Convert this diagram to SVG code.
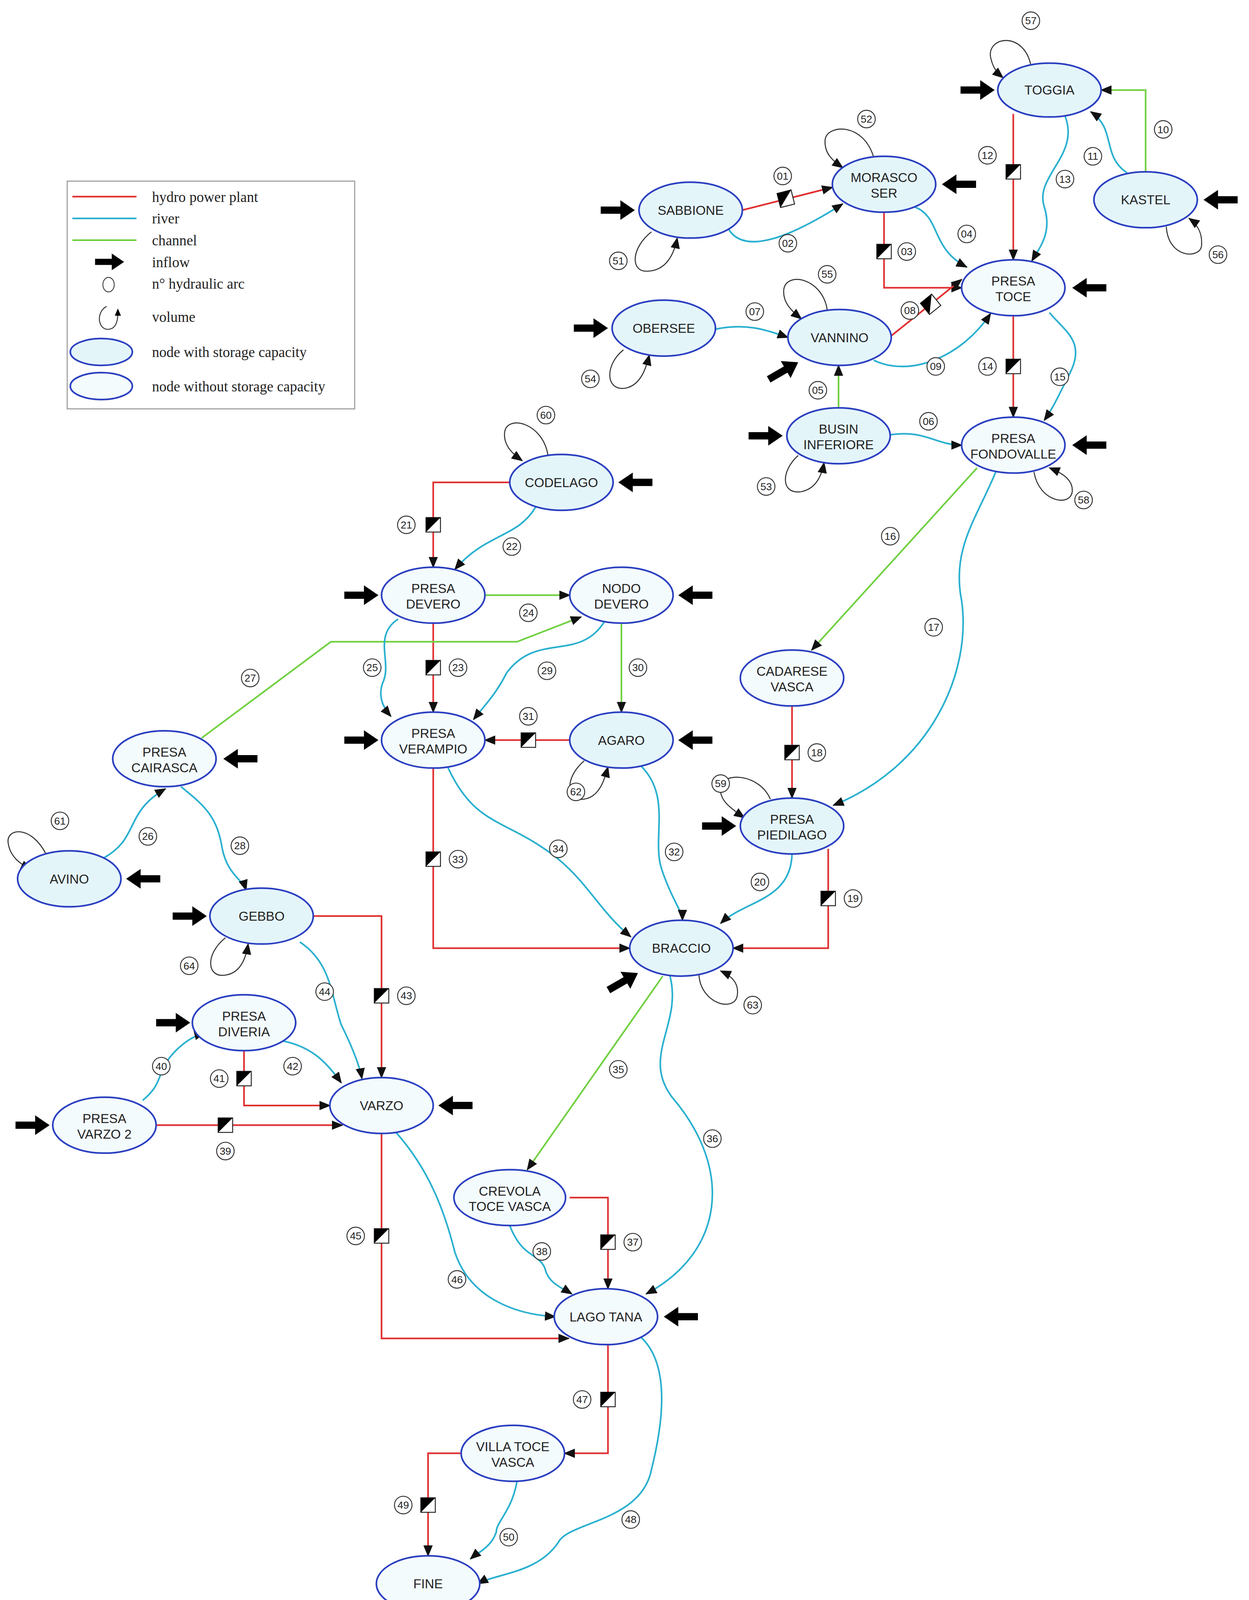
<svg xmlns="http://www.w3.org/2000/svg" width="3198" height="4155" viewBox="0 0 3198 4155">
<style>
.s{fill:#e4f5fa;stroke:#2a3fc0;stroke-width:1.6}
.n{fill:#f3fbfd;stroke:#2a3fc0;stroke-width:1.6}
.t{font-family:"Liberation Sans",Arial,sans-serif;font-size:12.5px;fill:#222;text-anchor:middle}
.r{fill:none;stroke:#e03030;stroke-width:1.6;marker-end:url(#a)}
.c{fill:none;stroke:#2ab0d0;stroke-width:1.6;marker-end:url(#a)}
.g{fill:none;stroke:#70d040;stroke-width:1.6;marker-end:url(#a)}
.l{fill:none;stroke:#333;stroke-width:1;marker-end:url(#a)}
.nc{fill:#fff;stroke:#333;stroke-width:0.9}
.nt{font-family:"Liberation Sans",Arial,sans-serif;font-size:10px;fill:#222;text-anchor:middle}
.lg{font-family:"Liberation Serif","Times New Roman",serif;font-size:14px;fill:#222}
</style>
<defs>
<marker id="a" markerUnits="userSpaceOnUse" markerWidth="11" markerHeight="9" refX="10" refY="4.5" orient="auto"><path d="M0,0L11,4.5L0,9Z" fill="#111"/></marker>
<path id="in" d="M-33,-3.5H-14V-9.5L0,0L-14,9.5V3.5H-33Z" fill="#000"/>
<g id="v"><rect x="-7" y="-7" width="14" height="14" fill="#fff" stroke="#222" stroke-width="0.9"/><path d="M-7,-7H7L-7,7Z" fill="#000"/></g>
</defs>
<rect width="3198" height="4155" fill="#fff"/>
<g transform="scale(2.6474,2.6499)">
<g id="legend">
<rect x="65" y="175" width="278" height="220" fill="#fff" stroke="#999" stroke-width="1"/>
<line x1="70" y1="190" x2="132" y2="190" stroke="#e03030" stroke-width="1.6"/>
<line x1="70" y1="211" x2="132" y2="211" stroke="#2ab0d0" stroke-width="1.6"/>
<line x1="70" y1="232" x2="132" y2="232" stroke="#70d040" stroke-width="1.6"/>
<use href="#in" transform="translate(120,253) scale(0.85)"/>
<ellipse cx="105" cy="275" rx="5.5" ry="7" fill="#fff" stroke="#333" stroke-width="0.8"/>
<path d="M103,296 C92,302 95,320 106,318 C112,317 114,310 114,302" fill="none" stroke="#333" stroke-width="0.9"/>
<path d="M114,298 L111,305 L117,305Z" fill="#000"/>
<ellipse class="s" cx="98" cy="340" rx="30" ry="13"/>
<ellipse class="n" cx="98" cy="373" rx="30" ry="13"/>
<text class="lg" x="147" y="195">hydro power plant</text>
<text class="lg" x="147" y="216">river</text>
<text class="lg" x="147" y="237">channel</text>
<text class="lg" x="147" y="258">inflow</text>
<text class="lg" x="147" y="279">n° hydraulic arc</text>
<text class="lg" x="147" y="311">volume</text>
<text class="lg" x="147" y="345">node with storage capacity</text>
<text class="lg" x="147" y="378">node without storage capacity</text>
</g>
<g id="connectors">
<path class="r" d="M718,203L805,181"/>
<path class="r" d="M855,205V278H930"/>
<path class="r" d="M860,326L930,270"/>
<path class="r" d="M980,110V251"/>
<path class="r" d="M980,305V403"/>
<path class="r" d="M766,682V771"/>
<path class="r" d="M801,820V916H709"/>
<path class="r" d="M493,466H419V548"/>
<path class="r" d="M419,602V688"/>
<path class="r" d="M551,715H469"/>
<path class="r" d="M419,742V916H609"/>
<path class="r" d="M551,1157H588V1245"/>
<path class="r" d="M151,1087H331"/>
<path class="r" d="M236,1015V1068H319"/>
<path class="r" d="M303,885H369V1041"/>
<path class="r" d="M369,1095V1293H550"/>
<path class="r" d="M588,1299V1404H546"/>
<path class="r" d="M446,1404H414V1503"/>
<path class="g" d="M1108,166V87H1065"/>
<path class="g" d="M811,394V353"/>
<path class="g" d="M945,452L785,628"/>
<path class="g" d="M469,575H551"/>
<path class="g" d="M195,713L320,620H500L562,596"/>
<path class="g" d="M601,602V688"/>
<path class="g" d="M641,943L510,1130"/>
<path class="c" d="M705,222 C720,245 760,232 815,197"/>
<path class="c" d="M885,200 C910,210 900,240 935,258"/>
<path class="c" d="M1030,112 C1045,150 1000,170 1010,200 C1018,225 1005,240 998,252"/>
<path class="c" d="M1090,167 C1065,150 1080,125 1055,108"/>
<path class="c" d="M692,318 C720,312 740,318 762,326"/>
<path class="c" d="M845,348 C880,365 930,345 958,303"/>
<path class="c" d="M1015,302 C1030,320 1050,330 1035,360 C1025,380 1018,395 1010,406"/>
<path class="c" d="M861,420 C895,415 905,430 930,430"/>
<path class="c" d="M963,456 C945,500 920,530 930,580 C940,650 900,740 806,778"/>
<path class="c" d="M518,490 C500,520 470,515 440,550"/>
<path class="c" d="M385,598 C360,615 380,640 370,660 C365,675 372,685 378,692"/>
<path class="c" d="M585,600 C560,640 520,610 490,650 C480,670 470,680 458,695"/>
<path class="c" d="M433,741 C460,800 490,790 540,830 C570,855 580,880 610,905"/>
<path class="c" d="M620,740 C650,770 630,810 640,840 C650,870 660,880 660,889"/>
<path class="c" d="M766,825 C765,870 720,870 697,892"/>
<path class="c" d="M100,829 C135,810 120,785 160,762"/>
<path class="c" d="M175,760 C200,780 210,790 215,820 C220,845 235,850 238,860"/>
<path class="c" d="M290,910 C320,930 320,960 330,990 C340,1010 348,1030 350,1042"/>
<path class="c" d="M270,1005 C300,1010 315,1025 330,1046"/>
<path class="c" d="M138,1063 C160,1045 150,1035 170,1015 C180,1005 190,1000 198,998"/>
<path class="c" d="M383,1094 C415,1130 430,1170 440,1210 C455,1255 500,1270 537,1272"/>
<path class="c" d="M493,1184 C505,1215 520,1210 527,1225 C530,1240 545,1245 553,1250"/>
<path class="c" d="M648,943 C660,990 620,1020 650,1060 C710,1130 700,1210 625,1250"/>
<path class="c" d="M620,1292 C650,1320 640,1380 630,1420 C620,1470 550,1470 540,1490 C520,1520 480,1520 462,1530"/>
<path class="c" d="M500,1431 C495,1460 480,1470 480,1480 C475,1495 462,1500 455,1506"/>
<path class="l" d="M997,63 C990,30 955,35 958,55 C960,65 964,70 970,75"/>
<path class="l" d="M845,152 C835,118 800,120 798,135 C797,148 805,155 815,162"/>
<path class="l" d="M630,224 C610,240 610,262 625,262 C645,262 652,245 655,230"/>
<path class="l" d="M1128,219 C1130,250 1160,250 1162,238 C1163,228 1160,218 1150,211"/>
<path class="l" d="M800,299 C795,268 760,262 758,280 C757,292 765,300 775,308"/>
<path class="l" d="M603,338 C585,352 585,378 605,375 C620,372 625,355 628,343"/>
<path class="l" d="M772,440 C755,455 755,478 775,475 C790,472 795,458 797,447"/>
<path class="l" d="M1000,456 C1005,485 1035,490 1037,475 C1038,465 1030,458 1015,452"/>
<path class="l" d="M530,440 C525,408 490,400 488,418 C487,430 495,438 505,445"/>
<path class="l" d="M565,735 C545,752 548,775 565,772 C580,770 585,752 588,741"/>
<path class="l" d="M745,772 C735,748 700,745 697,760 C695,772 705,780 720,790"/>
<path class="l" d="M45,826 C30,796 5,800 8,815 C10,828 20,835 30,840"/>
<path class="l" d="M218,906 C198,922 200,945 218,942 C233,940 238,925 240,912"/>
<path class="l" d="M676,942 C678,970 710,978 713,962 C715,950 708,943 697,938"/>
</g>
<g id="valves">
<use href="#v" transform="translate(760,192) rotate(-14)"/>
<use href="#v" transform="translate(855,243)"/>
<use href="#v" transform="translate(900,294) rotate(-39)"/>
<use href="#v" transform="translate(980,166)"/>
<use href="#v" transform="translate(980,354)"/>
<use href="#v" transform="translate(766,727)"/>
<use href="#v" transform="translate(801,868)"/>
<use href="#v" transform="translate(419,507)"/>
<use href="#v" transform="translate(419,645)"/>
<use href="#v" transform="translate(511,715)"/>
<use href="#v" transform="translate(419,830)"/>
<use href="#v" transform="translate(588,1200)"/>
<use href="#v" transform="translate(218,1087)"/>
<use href="#v" transform="translate(236,1042)"/>
<use href="#v" transform="translate(369,962)"/>
<use href="#v" transform="translate(369,1194)"/>
<use href="#v" transform="translate(588,1352)"/>
<use href="#v" transform="translate(414,1454)"/>
</g>
<g id="inflows">
<use href="#in" transform="translate(962,87)"/>
<use href="#in" transform="translate(911,178) rotate(180)"/>
<use href="#in" transform="translate(614,203)"/>
<use href="#in" transform="translate(1164,193) rotate(180)"/>
<use href="#in" transform="translate(1037,278) rotate(180)"/>
<use href="#in" transform="translate(588,317)"/>
<use href="#in" transform="translate(772,350) rotate(-30)"/>
<use href="#in" transform="translate(757,421)"/>
<use href="#in" transform="translate(1037,430) rotate(180)"/>
<use href="#in" transform="translate(598,466) rotate(180)"/>
<use href="#in" transform="translate(366,575)"/>
<use href="#in" transform="translate(656,575) rotate(180)"/>
<use href="#in" transform="translate(366,715)"/>
<use href="#in" transform="translate(656,715) rotate(180)"/>
<use href="#in" transform="translate(216,733) rotate(180)"/>
<use href="#in" transform="translate(122,849) rotate(180)"/>
<use href="#in" transform="translate(200,885)"/>
<use href="#in" transform="translate(712,798)"/>
<use href="#in" transform="translate(617,940) rotate(-30)"/>
<use href="#in" transform="translate(184,988)"/>
<use href="#in" transform="translate(424,1068) rotate(180)"/>
<use href="#in" transform="translate(48,1087)"/>
<use href="#in" transform="translate(642,1272) rotate(180)"/>
</g>
<g id="arc-labels">
<g><circle class="nc" cx="757" cy="170" r="8.5"/><text class="nt" x="757" y="173.5">01</text></g>
<g><circle class="nc" cx="762" cy="235" r="8.5"/><text class="nt" x="762" y="238.5">02</text></g>
<g><circle class="nc" cx="877" cy="243" r="8.5"/><text class="nt" x="877" y="246.5">03</text></g>
<g><circle class="nc" cx="935" cy="226" r="8.5"/><text class="nt" x="935" y="229.5">04</text></g>
<g><circle class="nc" cx="791" cy="377" r="8.5"/><text class="nt" x="791" y="380.5">05</text></g>
<g><circle class="nc" cx="898" cy="407" r="8.5"/><text class="nt" x="898" y="410.5">06</text></g>
<g><circle class="nc" cx="730" cy="301" r="8.5"/><text class="nt" x="730" y="304.5">07</text></g>
<g><circle class="nc" cx="880" cy="300" r="8.5"/><text class="nt" x="880" y="303.5">08</text></g>
<g><circle class="nc" cx="905" cy="354" r="8.5"/><text class="nt" x="905" y="357.5">09</text></g>
<g><circle class="nc" cx="1125" cy="125" r="8.5"/><text class="nt" x="1125" y="128.5">10</text></g>
<g><circle class="nc" cx="1057" cy="151" r="8.5"/><text class="nt" x="1057" y="154.5">11</text></g>
<g><circle class="nc" cx="955" cy="150" r="8.5"/><text class="nt" x="955" y="153.5">12</text></g>
<g><circle class="nc" cx="1030" cy="173" r="8.5"/><text class="nt" x="1030" y="176.5">13</text></g>
<g><circle class="nc" cx="955" cy="354" r="8.5"/><text class="nt" x="955" y="357.5">14</text></g>
<g><circle class="nc" cx="1025" cy="364" r="8.5"/><text class="nt" x="1025" y="367.5">15</text></g>
<g><circle class="nc" cx="861" cy="518" r="8.5"/><text class="nt" x="861" y="521.5">16</text></g>
<g><circle class="nc" cx="903" cy="606" r="8.5"/><text class="nt" x="903" y="609.5">17</text></g>
<g><circle class="nc" cx="790" cy="727" r="8.5"/><text class="nt" x="790" y="730.5">18</text></g>
<g><circle class="nc" cx="825" cy="868" r="8.5"/><text class="nt" x="825" y="871.5">19</text></g>
<g><circle class="nc" cx="735" cy="852" r="8.5"/><text class="nt" x="735" y="855.5">20</text></g>
<g><circle class="nc" cx="393" cy="507" r="8.5"/><text class="nt" x="393" y="510.5">21</text></g>
<g><circle class="nc" cx="495" cy="528" r="8.5"/><text class="nt" x="495" y="531.5">22</text></g>
<g><circle class="nc" cx="443" cy="645" r="8.5"/><text class="nt" x="443" y="648.5">23</text></g>
<g><circle class="nc" cx="511" cy="592" r="8.5"/><text class="nt" x="511" y="595.5">24</text></g>
<g><circle class="nc" cx="360" cy="645" r="8.5"/><text class="nt" x="360" y="648.5">25</text></g>
<g><circle class="nc" cx="143" cy="808" r="8.5"/><text class="nt" x="143" y="811.5">26</text></g>
<g><circle class="nc" cx="242" cy="655" r="8.5"/><text class="nt" x="242" y="658.5">27</text></g>
<g><circle class="nc" cx="232" cy="817" r="8.5"/><text class="nt" x="232" y="820.5">28</text></g>
<g><circle class="nc" cx="529" cy="648" r="8.5"/><text class="nt" x="529" y="651.5">29</text></g>
<g><circle class="nc" cx="617" cy="645" r="8.5"/><text class="nt" x="617" y="648.5">30</text></g>
<g><circle class="nc" cx="511" cy="692" r="8.5"/><text class="nt" x="511" y="695.5">31</text></g>
<g><circle class="nc" cx="652" cy="823" r="8.5"/><text class="nt" x="652" y="826.5">32</text></g>
<g><circle class="nc" cx="443" cy="830" r="8.5"/><text class="nt" x="443" y="833.5">33</text></g>
<g><circle class="nc" cx="540" cy="820" r="8.5"/><text class="nt" x="540" y="823.5">34</text></g>
<g><circle class="nc" cx="598" cy="1033" r="8.5"/><text class="nt" x="598" y="1036.5">35</text></g>
<g><circle class="nc" cx="689" cy="1100" r="8.5"/><text class="nt" x="689" y="1103.5">36</text></g>
<g><circle class="nc" cx="612" cy="1200" r="8.5"/><text class="nt" x="612" y="1203.5">37</text></g>
<g><circle class="nc" cx="524" cy="1209" r="8.5"/><text class="nt" x="524" y="1212.5">38</text></g>
<g><circle class="nc" cx="218" cy="1112" r="8.5"/><text class="nt" x="218" y="1115.5">39</text></g>
<g><circle class="nc" cx="156" cy="1030" r="8.5"/><text class="nt" x="156" y="1033.5">40</text></g>
<g><circle class="nc" cx="212" cy="1042" r="8.5"/><text class="nt" x="212" y="1045.5">41</text></g>
<g><circle class="nc" cx="283" cy="1030" r="8.5"/><text class="nt" x="283" y="1033.5">42</text></g>
<g><circle class="nc" cx="393" cy="962" r="8.5"/><text class="nt" x="393" y="965.5">43</text></g>
<g><circle class="nc" cx="314" cy="958" r="8.5"/><text class="nt" x="314" y="961.5">44</text></g>
<g><circle class="nc" cx="344" cy="1194" r="8.5"/><text class="nt" x="344" y="1197.5">45</text></g>
<g><circle class="nc" cx="442" cy="1236" r="8.5"/><text class="nt" x="442" y="1239.5">46</text></g>
<g><circle class="nc" cx="563" cy="1352" r="8.5"/><text class="nt" x="563" y="1355.5">47</text></g>
<g><circle class="nc" cx="610" cy="1468" r="8.5"/><text class="nt" x="610" y="1471.5">48</text></g>
<g><circle class="nc" cx="390" cy="1454" r="8.5"/><text class="nt" x="390" y="1457.5">49</text></g>
<g><circle class="nc" cx="492" cy="1485" r="8.5"/><text class="nt" x="492" y="1488.5">50</text></g>
<g><circle class="nc" cx="598" cy="252" r="8.5"/><text class="nt" x="598" y="255.5">51</text></g>
<g><circle class="nc" cx="838" cy="115" r="8.5"/><text class="nt" x="838" y="118.5">52</text></g>
<g><circle class="nc" cx="741" cy="470" r="8.5"/><text class="nt" x="741" y="473.5">53</text></g>
<g><circle class="nc" cx="571" cy="366" r="8.5"/><text class="nt" x="571" y="369.5">54</text></g>
<g><circle class="nc" cx="800" cy="265" r="8.5"/><text class="nt" x="800" y="268.5">55</text></g>
<g><circle class="nc" cx="1178" cy="246" r="8.5"/><text class="nt" x="1178" y="249.5">56</text></g>
<g><circle class="nc" cx="997" cy="20" r="8.5"/><text class="nt" x="997" y="23.5">57</text></g>
<g><circle class="nc" cx="1048" cy="483" r="8.5"/><text class="nt" x="1048" y="486.5">58</text></g>
<g><circle class="nc" cx="697" cy="757" r="8.5"/><text class="nt" x="697" y="760.5">59</text></g>
<g><circle class="nc" cx="528" cy="401" r="8.5"/><text class="nt" x="528" y="404.5">60</text></g>
<g><circle class="nc" cx="58" cy="793" r="8.5"/><text class="nt" x="58" y="796.5">61</text></g>
<g><circle class="nc" cx="557" cy="765" r="8.5"/><text class="nt" x="557" y="768.5">62</text></g>
<g><circle class="nc" cx="728" cy="971" r="8.5"/><text class="nt" x="728" y="974.5">63</text></g>
<g><circle class="nc" cx="183" cy="933" r="8.5"/><text class="nt" x="183" y="936.5">64</text></g>
</g>
<g id="toggia"><ellipse class="s" cx="1015" cy="87" rx="50" ry="26"/><text class="t" x="1015" y="91.5">TOGGIA</text></g>
<g id="kastel"><ellipse class="s" cx="1108" cy="193" rx="50" ry="27"/><text class="t" x="1108" y="197.5">KASTEL</text></g>
<g id="morasco"><ellipse class="s" cx="855" cy="178" rx="50" ry="27"/><text class="t" x="855" y="176">MORASCO</text><text class="t" x="855" y="191">SER</text></g>
<g id="sabbione"><ellipse class="s" cx="668" cy="203" rx="50" ry="27"/><text class="t" x="668" y="207.5">SABBIONE</text></g>
<g id="presa-toce"><ellipse class="n" cx="980" cy="278" rx="50" ry="27"/><text class="t" x="980" y="276">PRESA</text><text class="t" x="980" y="291">TOCE</text></g>
<g id="obersee"><ellipse class="s" cx="642" cy="317" rx="50" ry="27"/><text class="t" x="642" y="321.5">OBERSEE</text></g>
<g id="vannino"><ellipse class="s" cx="812" cy="326" rx="50" ry="27"/><text class="t" x="812" y="330.5">VANNINO</text></g>
<g id="busin"><ellipse class="s" cx="811" cy="421" rx="50" ry="27"/><text class="t" x="811" y="419">BUSIN</text><text class="t" x="811" y="434">INFERIORE</text></g>
<g id="fondovalle"><ellipse class="n" cx="980" cy="430" rx="50" ry="27"/><text class="t" x="980" y="428">PRESA</text><text class="t" x="980" y="443">FONDOVALLE</text></g>
<g id="codelago"><ellipse class="s" cx="543" cy="466" rx="50" ry="27"/><text class="t" x="543" y="470.5">CODELAGO</text></g>
<g id="presa-devero"><ellipse class="n" cx="419" cy="575" rx="50" ry="27"/><text class="t" x="419" y="573">PRESA</text><text class="t" x="419" y="588">DEVERO</text></g>
<g id="nodo-devero"><ellipse class="n" cx="601" cy="575" rx="50" ry="27"/><text class="t" x="601" y="573">NODO</text><text class="t" x="601" y="588">DEVERO</text></g>
<g id="cadarese"><ellipse class="n" cx="766" cy="655" rx="50" ry="27"/><text class="t" x="766" y="653">CADARESE</text><text class="t" x="766" y="668">VASCA</text></g>
<g id="verampio"><ellipse class="n" cx="419" cy="715" rx="50" ry="27"/><text class="t" x="419" y="713">PRESA</text><text class="t" x="419" y="728">VERAMPIO</text></g>
<g id="agaro"><ellipse class="s" cx="601" cy="715" rx="50" ry="27"/><text class="t" x="601" y="719.5">AGARO</text></g>
<g id="cairasca"><ellipse class="n" cx="159" cy="733" rx="50" ry="27"/><text class="t" x="159" y="731">PRESA</text><text class="t" x="159" y="746">CAIRASCA</text></g>
<g id="piedilago"><ellipse class="s" cx="766" cy="798" rx="50" ry="27"/><text class="t" x="766" y="796">PRESA</text><text class="t" x="766" y="811">PIEDILAGO</text></g>
<g id="avino"><ellipse class="s" cx="67" cy="849" rx="50" ry="27"/><text class="t" x="67" y="853.5">AVINO</text></g>
<g id="gebbo"><ellipse class="s" cx="253" cy="885" rx="50" ry="27"/><text class="t" x="253" y="889.5">GEBBO</text></g>
<g id="braccio"><ellipse class="s" cx="659" cy="916" rx="50" ry="27"/><text class="t" x="659" y="920.5">BRACCIO</text></g>
<g id="diveria"><ellipse class="n" cx="236" cy="988" rx="50" ry="27"/><text class="t" x="236" y="986">PRESA</text><text class="t" x="236" y="1001">DIVERIA</text></g>
<g id="varzo"><ellipse class="n" cx="369" cy="1068" rx="50" ry="27"/><text class="t" x="369" y="1072.5">VARZO</text></g>
<g id="varzo2"><ellipse class="n" cx="101" cy="1087" rx="50" ry="27"/><text class="t" x="101" y="1085">PRESA</text><text class="t" x="101" y="1100">VARZO 2</text></g>
<g id="crevola"><ellipse class="n" cx="493" cy="1157" rx="54" ry="27"/><text class="t" x="493" y="1155">CREVOLA</text><text class="t" x="493" y="1170">TOCE VASCA</text></g>
<g id="lago-tana"><ellipse class="n" cx="586" cy="1272" rx="50" ry="27"/><text class="t" x="586" y="1276.5">LAGO TANA</text></g>
<g id="villa-toce"><ellipse class="n" cx="496" cy="1404" rx="50" ry="27"/><text class="t" x="496" y="1402">VILLA TOCE</text><text class="t" x="496" y="1417">VASCA</text></g>
<g id="fine"><ellipse class="n" cx="414" cy="1530" rx="50" ry="27"/><text class="t" x="414" y="1534.5">FINE</text></g>
</g>
</svg>
